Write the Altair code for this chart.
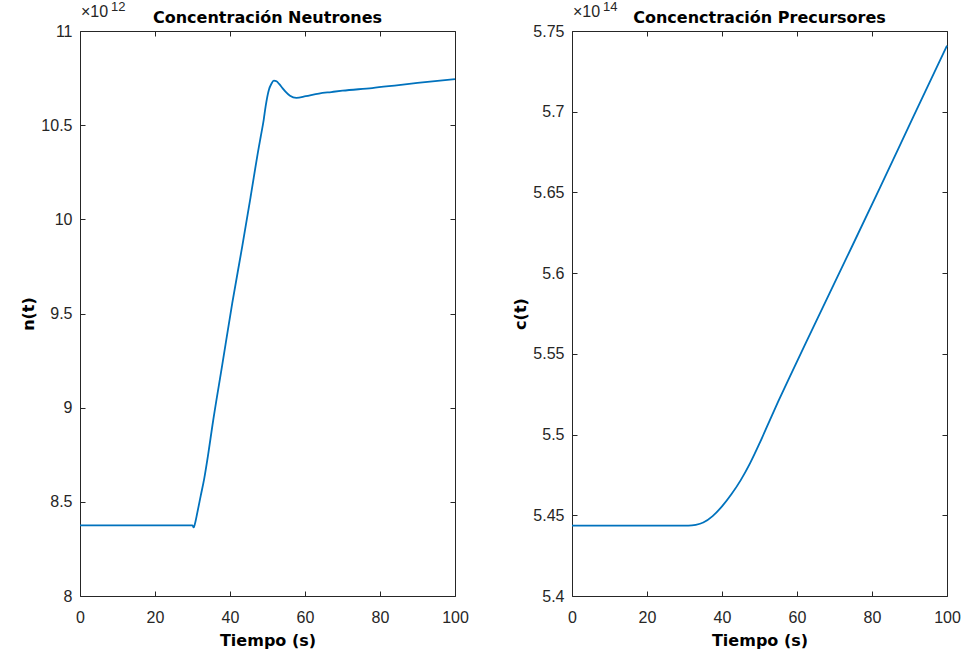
import altair as alt
import pandas as pd

# Neutron concentration n(t), in units of 1e12
t_n = [0, 30.0, 30.3, 30.6, 31.3, 32.2, 33.1, 34.2, 35.3, 37.9, 40.6, 43.3,
       45.5, 47.7, 48.2, 49.0, 49.5, 50.4, 51.0, 51.7, 52.4, 53.1, 54.0,
       54.8, 56.0, 57.7, 60.2, 63.7, 67.0, 70.0, 77.9, 85.0, 90.0, 100.0]
n_vals = [8.375, 8.375, 8.364, 8.380, 8.444, 8.533, 8.621, 8.755, 8.904,
          9.223, 9.555, 9.860, 10.120, 10.385, 10.440, 10.530, 10.600,
          10.690, 10.718, 10.737, 10.733, 10.719, 10.697, 10.678, 10.656,
          10.645, 10.654, 10.668, 10.676, 10.683, 10.697, 10.713, 10.724,
          10.745]

# Precursor concentration c(t), in units of 1e14
t_c = [0, 31.0, 33.0, 35.0, 37.5, 40.0, 42.5, 45.0, 47.5, 50.0, 52.5, 55.0,
       58.0, 64.3, 73.2, 82.1, 91.0, 100.0]
c_vals = [5.4436, 5.4436, 5.4441, 5.4455, 5.4495, 5.4555, 5.4630, 5.4718,
          5.4823, 5.4945, 5.5075, 5.5205, 5.5355, 5.5662, 5.6094, 5.6528,
          5.6968, 5.7410]

x_ticks = [0, 20, 40, 60, 80, 100]
n_ticks = [8, 8.5, 9, 9.5, 10, 10.5, 11]
c_ticks = [5.4, 5.45, 5.5, 5.55, 5.6, 5.65, 5.7, 5.75]

LINE = "#0072BD"
INK = "#262626"
FONT = "Liberation Sans"
BOLD = "DejaVu Sans"
W, H = 375, 565


def one_row(text):
    return alt.Chart(pd.DataFrame({"s": [text]}))


def panel(t, vals, yfield, ydomain, yticks, ylabel, title, exponent):
    df = pd.DataFrame({"t": t, yfield: vals})
    xs = alt.Scale(domain=[0, 100], nice=False)
    ys = alt.Scale(domain=ydomain, nice=False, zero=False)

    line = alt.Chart(df).mark_line(color=LINE, strokeWidth=1.8,
                                   interpolate="monotone").encode(
        x=alt.X("t:Q", scale=xs, axis=alt.Axis(
            values=x_ticks, orient="bottom", offset=-5, tickSize=5,
            domain=False, grid=False, labelPadding=13, labelFlush=False,
            labelOverlap=False, title="Tiempo (s)", titlePadding=7)),
        y=alt.Y(f"{yfield}:Q", scale=ys, axis=alt.Axis(
            values=yticks, orient="left", offset=-5, tickSize=5,
            domain=False, grid=False, labelPadding=8, labelFlush=False,
            labelOverlap=False, format="~g", title=ylabel, titlePadding=4)),
    )

    # mirrored inward ticks on the top and right edges of the box
    mirror = alt.Chart(df).mark_line(opacity=0).encode(
        x=alt.X("t:Q", scale=xs, axis=alt.Axis(
            values=x_ticks, orient="top", offset=-5, tickSize=5,
            domain=False, grid=False, labels=False, title=None)),
        y=alt.Y(f"{yfield}:Q", scale=ys, axis=alt.Axis(
            values=yticks, orient="right", offset=-5, tickSize=5,
            domain=False, grid=False, labels=False, title=None)),
    )

    head = one_row(title).mark_text(
        font=BOLD, fontSize=16, fontWeight="bold", color="black",
        align="center", baseline="alphabetic").encode(
        text="s:N", x=alt.value(W / 2), y=alt.value(-8))

    times = one_row("×10").mark_text(
        font=FONT, fontSize=16, color=INK, align="left",
        baseline="alphabetic").encode(
        text="s:N", x=alt.value(1), y=alt.value(-14))

    power = one_row(exponent).mark_text(
        font=FONT, fontSize=13, color=INK, align="left",
        baseline="alphabetic").encode(
        text="s:N", x=alt.value(31), y=alt.value(-20))

    return alt.layer(line, mirror, head, times, power).resolve_axis(
        x="independent", y="independent").properties(width=W, height=H)


left = panel(t_n, n_vals, "n", [8, 11], n_ticks, "n(t)",
             "Concentración Neutrones", "12")
right = panel(t_c, c_vals, "c", [5.4, 5.75], c_ticks, "c(t)",
              "Concenctración Precursores", "14")

chart = alt.hconcat(left, right, spacing=43).properties(
    padding={"left": 20, "top": 0, "right": 5, "bottom": 0},
    background="white",
).configure_view(stroke=INK, strokeWidth=1).configure_axis(
    labelFont=FONT, labelFontSize=16, labelColor=INK,
    tickColor=INK, tickWidth=1,
    titleFont=BOLD, titleFontSize=16, titleFontWeight="bold",
    titleColor="black",
)

chart.save("out.html", embed_options={"renderer": "svg", "actions": False})
